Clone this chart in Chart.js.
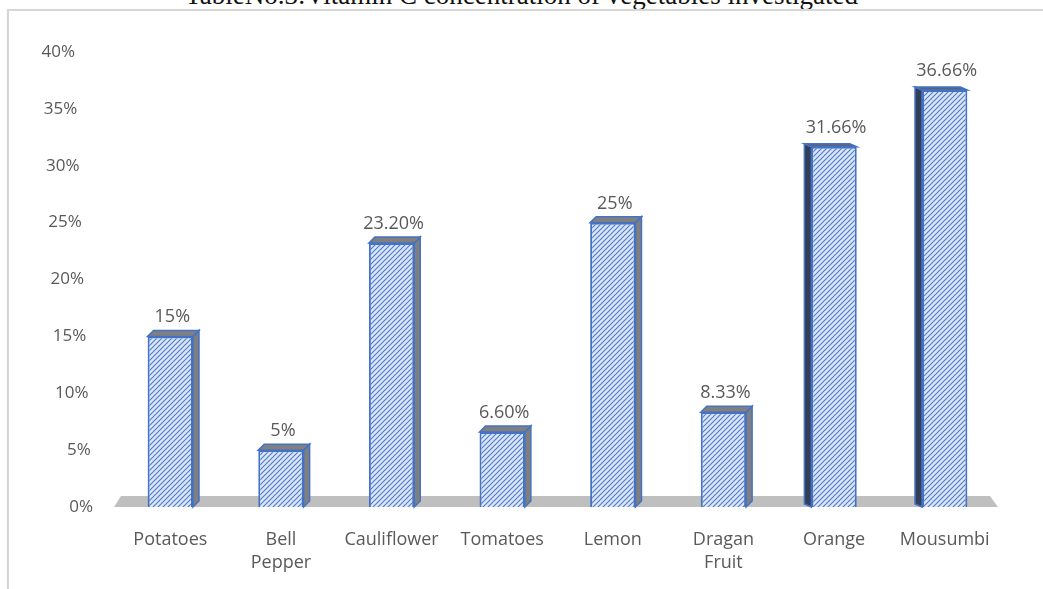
<!DOCTYPE html>
<html>
<head>
<meta charset="utf-8">
<script src="https://cdn.jsdelivr.net/npm/chart.js@4"></script>
<style>
  html, body { margin: 0; padding: 0; background: #fff; overflow: hidden; }
  #wrap { position: relative; width: 1043px; height: 589px; overflow: hidden; }
  #title {
    position: absolute; left: 0; width: 1043px; top: -20px; text-align: center;
    font-family: "Liberation Serif", "DejaVu Serif", serif; font-size: 27px; color: #111;
    white-space: nowrap;
  }
  #frame {
    position: absolute; left: 7px; top: 9px; width: 1100px; height: 700px;
    border: 2px solid #d6d6d6; box-shadow: 0 1px 2px rgba(0,0,0,0.08);
  }
  #chart { position: absolute; left: 0; top: 0; }
</style>
</head>
<body>
<div id="wrap">
  <div id="title">TableNo.3:Vitamin C concentration of vegetables investigated</div>
  <div id="frame"></div>
  <canvas id="chart" width="1043" height="589"></canvas>
</div>
<script>
/* Vitamin C concentration per item (percent) */
const categories = ['Potatoes', ['Bell', 'Pepper'], 'Cauliflower', 'Tomatoes', 'Lemon', ['Dragan', 'Fruit'], 'Orange', 'Mousumbi'];
const vitaminC = [15, 5, 23.2, 6.6, 25, 8.33, 31.66, 36.66];
const valueLabels = ['15%', '5%', '23.20%', '6.60%', '25%', '8.33%', '31.66%', '36.66%'];
const yTicks = [0, 5, 10, 15, 20, 25, 30, 35, 40];

const textGrey = '#595959';
const barBlue = '#4472C4';
const labelFont = '"Open Sans", "Noto Sans", sans-serif';

/* hatched fill like the Excel pattern */
function makeHatch() {
  const c = document.createElement('canvas');
  c.width = 5;
  c.height = 5;
  const g = c.getContext('2d');
  g.fillStyle = '#dde6f6';
  g.fillRect(0, 0, 5, 5);
  g.strokeStyle = '#4f7dcf';
  g.lineWidth = 1.2;
  g.beginPath();
  g.moveTo(-1, 6); g.lineTo(6, -1);
  g.moveTo(-1, 1); g.lineTo(1, -1);
  g.moveTo(4, 6); g.lineTo(6, 4);
  g.stroke();
  return g.createPattern(c, 'repeat');
}

function poly(ctx, pts, fill, stroke) {
  ctx.beginPath();
  ctx.moveTo(pts[0][0], pts[0][1]);
  for (let i = 1; i < pts.length; i++) ctx.lineTo(pts[i][0], pts[i][1]);
  ctx.closePath();
  ctx.fillStyle = fill;
  ctx.fill();
  if (stroke) {
    ctx.strokeStyle = stroke;
    ctx.lineWidth = 1.5;
    ctx.stroke();
  }
}

/* floor, 3D sides/tops, value labels and slanted y labels */
const fake3d = {
  id: 'fake3d',
  beforeDatasetsDraw(chart) {
    const ctx = chart.ctx;
    const area = chart.chartArea;
    const y0 = chart.scales.y.getPixelForValue(0);
    ctx.save();
    poly(ctx, [[area.left - 1, y0], [area.left + 6, y0 - 11], [area.right - 10, y0 - 11], [area.right - 2, y0]], '#bfbfbf');

    const bars = chart.getDatasetMeta(0).data;
    bars.forEach((b, i) => {
      const l = b.x - b.width / 2;
      const r = b.x + b.width / 2;
      const leftSide = i >= 6;
      if (!leftSide) {
        const d = 6, dy = 6;
        poly(ctx, [[r, b.y], [r + d, b.y - dy], [r + d, b.base - dy], [r, b.base]], '#7f7f7f', barBlue);
        poly(ctx, [[l, b.y], [l + d, b.y - dy], [r + d, b.y - dy], [r, b.y]], '#808080', barBlue);
      } else {
        const d = 7, dy = 3;
        poly(ctx, [[l, b.y], [l - d, b.y - dy], [l - d, b.base - dy], [l, b.base]], '#333f57', barBlue);
        poly(ctx, [[l, b.y], [l - d, b.y - dy], [r - d, b.y - dy], [r, b.y]], '#5a6478', barBlue);
      }
    });
    ctx.restore();
  },
  afterDatasetsDraw(chart) {
    const ctx = chart.ctx;
    const area = chart.chartArea;
    const ys = chart.scales.y;
    ctx.save();
    ctx.fillStyle = textGrey;
    ctx.font = '18px ' + labelFont;
    ctx.textAlign = 'center';
    ctx.textBaseline = 'alphabetic';
    chart.getDatasetMeta(0).data.forEach((b, i) => {
      ctx.fillText(valueLabels[i], b.x + 2, b.y - 14);
    });

    ctx.font = '17px ' + labelFont;
    ctx.textAlign = 'right';
    ctx.textBaseline = 'middle';
    yTicks.forEach((v) => {
      const x = area.left - 22 - (v / 40) * 18;
      ctx.fillText(v + '%', x, ys.getPixelForValue(v));
    });
    ctx.restore();
  },
};

const ctx = document.getElementById('chart').getContext('2d');

new Chart(ctx, {
  type: 'bar',
  data: {
    labels: categories,
    datasets: [
      {
        data: vitaminC,
        backgroundColor: makeHatch(),
        borderColor: barBlue,
        borderWidth: 2,
        barPercentage: 0.41,
        categoryPercentage: 1,
      },
    ],
  },
  options: {
    responsive: false,
    animation: false,
    events: [],
    layout: {
      padding: { top: 52, right: 43, bottom: 0, left: 115 },
    },
    plugins: {
      legend: { display: false },
      tooltip: { enabled: false },
      title: { display: false },
    },
    scales: {
      x: {
        grid: { display: false },
        border: { display: false },
        ticks: {
          color: textGrey,
          padding: 13,
          maxRotation: 0,
          autoSkip: false,
          font: { family: labelFont, size: 18, lineHeight: 1.3 },
        },
        afterFit: (s) => { s.height = 82; },
      },
      y: {
        display: false,
        min: 0,
        max: 40,
      },
    },
  },
  plugins: [fake3d],
});
</script>
</body>
</html>
